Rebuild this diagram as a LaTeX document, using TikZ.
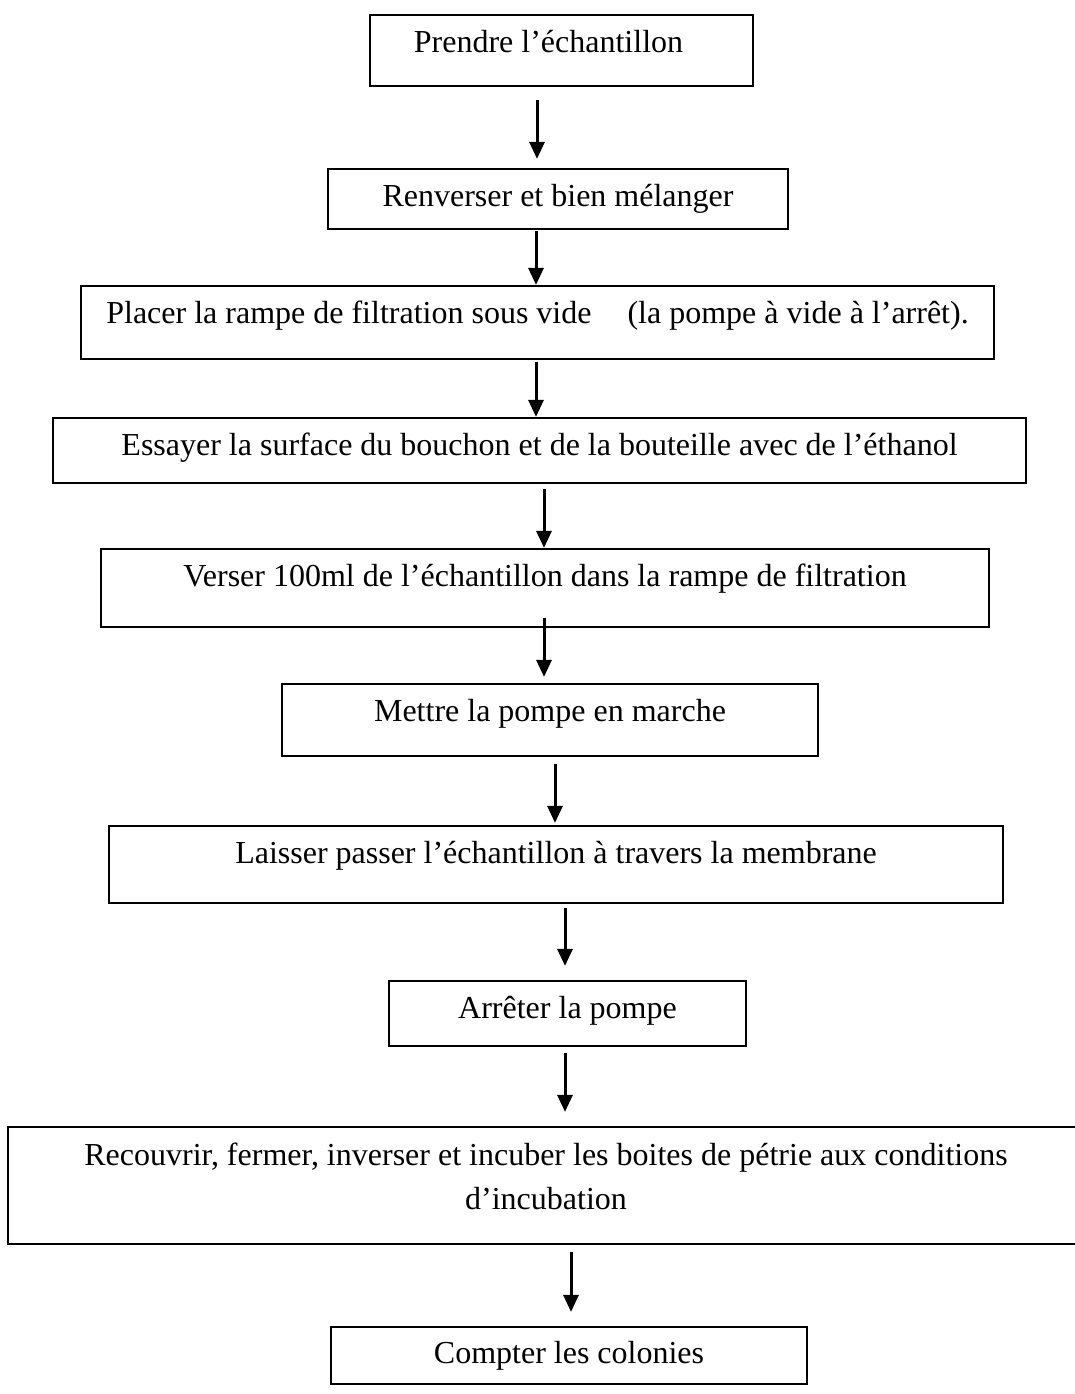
\documentclass[tikz,border=0pt]{standalone}
\usepackage{fontspec}
\setmainfont{Liberation Serif}
\usetikzlibrary{arrows.meta}

\begin{document}
\begin{tikzpicture}[
  x=1pt, y=-1pt,
  stepbox/.style={draw=black, line width=2.2pt, rectangle, inner sep=0pt},
  steptext/.style={anchor=base, inner sep=0pt, font=\fontsize{32}{44}\selectfont},
  flow/.style={draw=black, line width=3pt, -{Triangle[length=17pt, width=15pt]}}
]
\useasboundingbox (0,0) rectangle (1074,1394);

% step boxes (centre, width, height)
\node[stepbox, minimum width=383pt, minimum height=71pt] (b1)  at (561.5,50.5) {};
\node[stepbox, minimum width=460pt, minimum height=60pt] (b2)  at (558,199) {};
\node[stepbox, minimum width=913pt, minimum height=73pt] (b3)  at (537.5,322.5) {};
\node[stepbox, minimum width=973pt, minimum height=65pt] (b4)  at (539.5,450.5) {};
\node[stepbox, minimum width=888pt, minimum height=78pt] (b5)  at (545,588) {};
\node[stepbox, minimum width=536pt, minimum height=72pt] (b6)  at (550,720) {};
\node[stepbox, minimum width=894pt, minimum height=77pt] (b7)  at (556,864.5) {};
\node[stepbox, minimum width=357pt, minimum height=65pt] (b8)  at (567.5,1013.5) {};
\node[stepbox, minimum width=1076pt, minimum height=117pt] (b9) at (546,1185.5) {};
\node[stepbox, minimum width=476pt, minimum height=57pt] (b10) at (569,1355.5) {};

% step texts
\node[steptext] (t1)  at ([xshift=-13pt, yshift=-39pt]b1.north) {Prendre l’échantillon};
\node[steptext] (t2)  at ([yshift=-39pt]b2.north) {Renverser et bien mélanger};
\node[steptext] (t3)  at ([yshift=-39pt]b3.north) {Placer la rampe de filtration sous vide\hspace{28pt} (la pompe à vide à l’arrêt).};
\node[steptext] (t4)  at ([yshift=-39pt]b4.north) {Essayer la surface du bouchon et de la bouteille avec de l’éthanol};
\node[steptext] (t5)  at ([yshift=-39pt]b5.north) {Verser 100ml de l’échantillon dans la rampe de filtration};
\node[steptext] (t6)  at ([yshift=-39pt]b6.north) {Mettre la pompe en marche};
\node[steptext] (t7)  at ([yshift=-39pt]b7.north) {Laisser passer l’échantillon à travers la membrane};
\node[steptext] (t8)  at ([yshift=-39pt]b8.north) {Arrêter la pompe};
\node[steptext] (t9a) at ([yshift=-40pt]b9.north) {Recouvrir, fermer, inverser et incuber les boites de pétrie aux conditions};
\node[steptext] (t9b) at ([yshift=-84pt]b9.north) {d’incubation};
\node[steptext] (t10) at ([yshift=-38pt]b10.north) {Compter les colonies};

% connectors
\draw[flow] ([xshift=-24.5pt, yshift=-13pt]b1.south) -- ([xshift=-21pt, yshift=9pt]b2.north);
\draw[flow] ([xshift=-22pt, yshift=-1pt]b2.south) -- ([xshift=-1.5pt]b3.north);
\draw[flow] ([xshift=-1.5pt, yshift=-2pt]b3.south) -- ([xshift=-3.5pt]b4.north);
\draw[flow] ([xshift=4.5pt, yshift=-5pt]b4.south) -- ([xshift=-1pt]b5.north);
\draw[flow] ([xshift=-1pt, yshift=10pt]b5.south) -- ([xshift=-6pt, yshift=6pt]b6.north);
\draw[flow] ([xshift=5pt, yshift=-7pt]b6.south) -- ([xshift=-1pt, yshift=2pt]b7.north);
\draw[flow] ([xshift=9pt, yshift=-4pt]b7.south) -- ([xshift=-2.5pt, yshift=14pt]b8.north);
\draw[flow] ([xshift=-2.5pt, yshift=-6pt]b8.south) -- ([xshift=19pt, yshift=14pt]b9.north);
\draw[flow] ([xshift=25pt, yshift=-7pt]b9.south) -- ([xshift=2pt, yshift=14pt]b10.north);
\end{tikzpicture}
\end{document}
